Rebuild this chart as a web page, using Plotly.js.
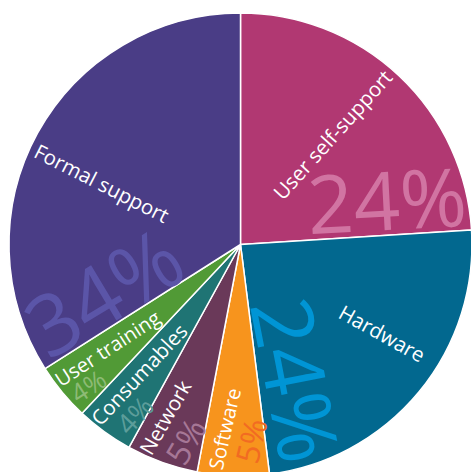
<!DOCTYPE html>
<html>
<head>
<meta charset="utf-8">
<script src="https://cdn.plot.ly/plotly-3.0.1.min.js"></script>
<style>
  html, body { margin: 0; padding: 0; overflow: hidden; background: #ffffff; }
  #chart { position: absolute; left: 0; top: 0; }
</style>
</head>
<body>
<div id="chart"></div>
<script>
// ---- data ----
var categories = ["User self-support", "Hardware", "Software", "Network", "Consumables", "User training", "Formal support"];
var shares = [24, 24, 5, 5, 4, 4, 34];
var percentLabels = ["24%", "24%", "5%", "5%", "4%", "4%", "34%"];

// ---- styles ----
var sliceColors = ["#b13872", "#02688f", "#f7941d", "#6a3959", "#1f7474", "#519a36", "#4a3d86"];
var percentColors = ["#d174a2", "#0095d5", "#f26b22", "#a67796", "#5c9d9a", "#8dbb75", "#5b55a8"];

var W = 481, H = 489;       // figure larger than the window; pie is cropped like the original
var R = 231.5;              // pie radius in px

// label placement (layout only): [cx, cy, angle, size] for name and percent of each slice
var namePlace = [
  [332, 135, -48, 20.5],
  [382, 333, 29, 20.5],
  [224, 429, -77, 20],
  [165, 417, -60, 20.5],
  [139, 374, -47, 20.5],
  [107, 348, -33, 20],
  [102, 183, 27, 20.5]
];
var pctPlace = [
  [387, 198, -3, 81],
  [298, 380, 79, 84],
  [250, 441, -77, 32],
  [185, 441, -60, 33],
  [134, 415, -47, 28],
  [88, 386, -33, 26],
  [103, 290, -31, 84]
];

var FONT = "Open Sans, Noto Sans, sans-serif";
var annotations = [];
function addLabel(text, p, color) {
  annotations.push({
    text: text, xref: "paper", yref: "paper",
    x: p[0] / W, y: 1 - p[1] / H, xanchor: "center", yanchor: "middle",
    textangle: p[2], showarrow: false, borderpad: 0,
    font: { family: FONT, size: p[3], color: color }
  });
}
for (var i = 0; i < categories.length; i++) {
  addLabel(categories[i], namePlace[i], "#ffffff");
  addLabel(percentLabels[i], pctPlace[i], percentColors[i]);
}

var cy = 244.5;
var trace = {
  type: "pie",
  labels: categories,
  values: shares,
  sort: false,
  direction: "clockwise",
  rotation: 0,
  textinfo: "none",
  hoverinfo: "label+percent",
  marker: { colors: sliceColors, line: { color: "#ffffff", width: 1.5 } },
  domain: { x: [0, 1], y: [(H - cy - R) / H, (H - cy + R) / H] },
  showlegend: false
};

var layout = {
  width: W, height: H,
  margin: { l: 0, r: 0, t: 0, b: 0, pad: 0 },
  paper_bgcolor: "#ffffff",
  showlegend: false,
  annotations: annotations
};

Plotly.newPlot("chart", [trace], layout, { displayModeBar: false, staticPlot: true });
</script>
</body>
</html>
